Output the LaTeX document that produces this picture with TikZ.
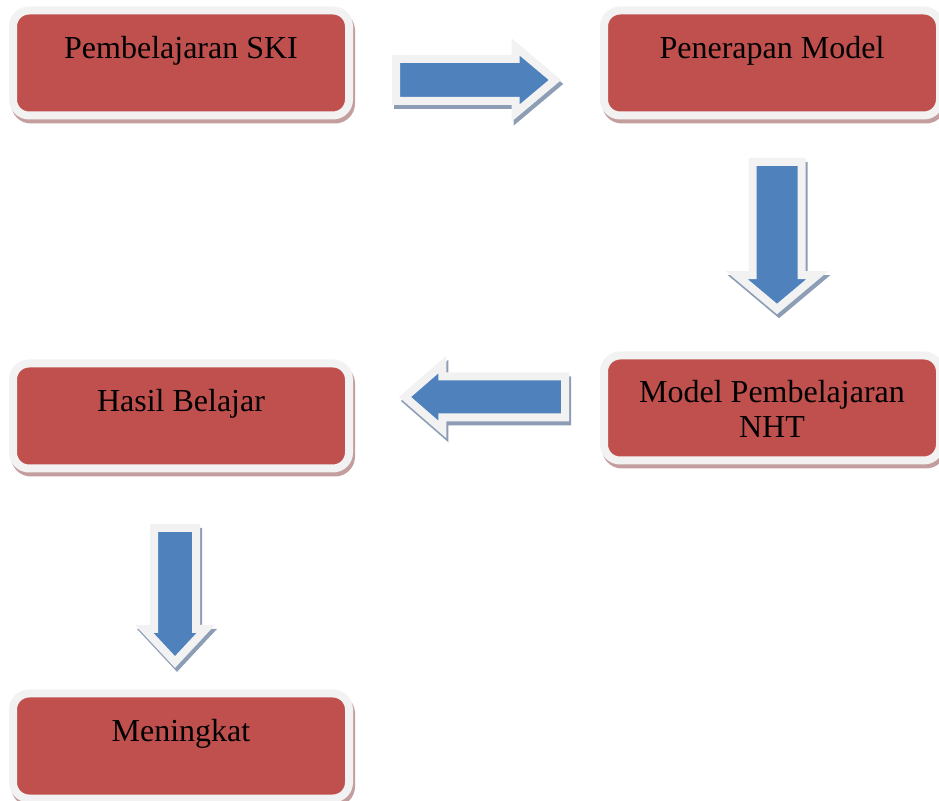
\documentclass[tikz,border=0pt]{standalone}
\usepackage{fontspec}
\setmainfont{Liberation Serif}
\definecolor{boxred}{RGB}{192, 80, 77}
\definecolor{arrowblue}{RGB}{79, 129, 189}
\definecolor{rimgray}{RGB}{242, 242, 242}
\definecolor{boxshade}{RGB}{196, 158, 158}
\definecolor{arrowshade}{RGB}{140, 157, 181}
\usetikzlibrary{shapes.arrows, shadows, positioning}

\begin{document}
\begin{tikzpicture}[
        x=1pt, y=1pt,
        box/.style={rectangle, draw=rimgray, line width=8pt, fill=boxred, rounded corners=16pt, minimum width=336pt, minimum height=105pt, align=center, text height=22pt, text depth=31pt, font=\fontsize{32}{35}\selectfont, drop shadow={shadow xshift=2pt, shadow yshift=-4pt, fill=boxshade, draw=boxshade, line width=8pt, opacity=1}},
        blockarrow/.style={single arrow, draw=rimgray, line width=8pt, fill=arrowblue, minimum width=0pt, anchor=tail, drop shadow={shadow xshift=2pt, shadow yshift=-4pt, fill=arrowshade, draw=arrowshade, line width=8pt, opacity=1}}
    ]
        \useasboundingbox (0,0) rectangle (939,800);

        \node[box] (ski) at (181,737) {Pembelajaran SKI};
        \node[box, right=247pt of ski] (model) {Penerapan Model};
        \node[box, below=232pt of model, text height=62pt, text depth=3pt] (nht) {Model Pembelajaran\\NHT};
        \node[box, below=240pt of ski] (hasil) {Hasil Belajar};
        \node[box, below=217pt of hasil] (naik) {Meningkat};

        % block arrows between the boxes
        \node[blockarrow, inner sep=17pt, single arrow head extend=12pt, minimum height=159pt, single arrow tip angle=80] (skitomodel) at (392,720) {};
        \node[blockarrow, inner sep=20.5pt, single arrow head extend=16pt, minimum height=147pt, single arrow tip angle=100, shape border rotate=270] (modeltonht) at (777,642) {};
        \node[blockarrow, inner sep=16.5pt, single arrow head extend=12pt, minimum height=160pt, single arrow tip angle=82, shape border rotate=180] (nhttohasil) at (569,403) {};
        \node[blockarrow, inner sep=17pt, single arrow head extend=10pt, minimum height=134pt, single arrow tip angle=86, shape border rotate=270] (hasiltonaik) at (175,276) {};
    \end{tikzpicture}
\end{document}
